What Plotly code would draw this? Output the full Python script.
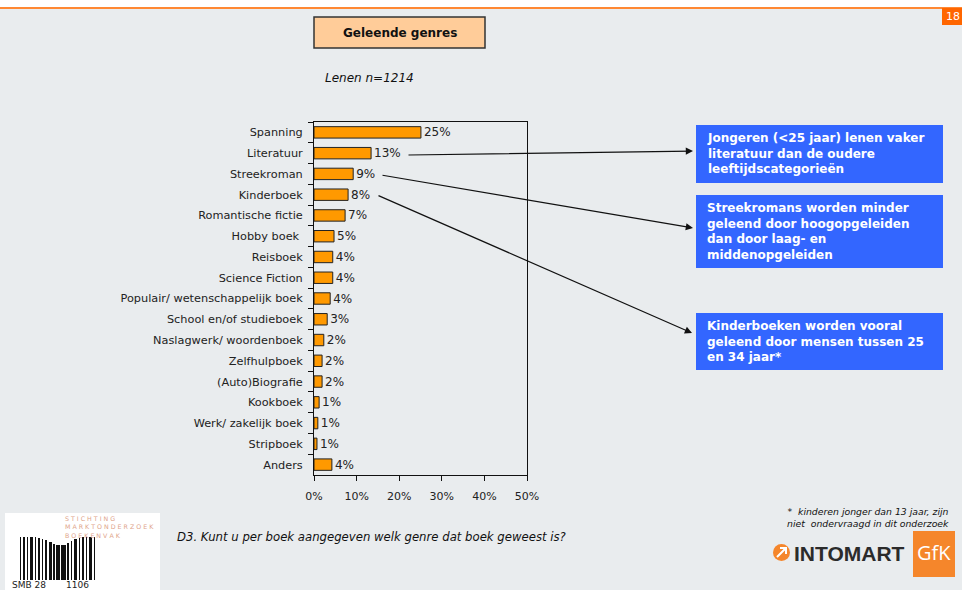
import plotly.graph_objects as go

# Share of borrowed books per genre (%)
genres = [
    "Spanning", "Literatuur", "Streekroman", "Kinderboek", "Romantische fictie",
    "Hobby boek\u00a0", "Reisboek", "Science Fiction", "Populair/ wetenschappelijk boek",
    "School en/of studieboek", "Naslagwerk/ woordenboek", "Zelfhulpboek",
    "(Auto)Biografie", "Kookboek", "Werk/ zakelijk boek", "Stripboek", "Anders",
]
shares = [25.1, 13.4, 9.2, 8.0, 7.3, 4.7, 4.4, 4.4, 3.8, 3.1, 2.3, 1.9, 1.9, 1.2, 0.9, 0.7, 4.2]
x_ticks = [0, 10, 20, 30, 40, 50]
x_tick_labels = ["0%", "10%", "20%", "30%", "40%", "50%"]

W_PX, H_PX = 962, 590
L, R, T, B = 314, 527, 122, 475
FONT = "DejaVu Sans"
BG = "#E9ECEE"


def px(x):
    return (x - L) / (R - L)


def py(y):
    return (B - y) / (B - T)


def label(x, y, text, size, color="#111111", family=FONT, xanchor="left",
          yanchor="middle", align="left"):
    return dict(xref="paper", yref="paper", x=px(x), y=py(y), text=text,
                xanchor=xanchor, yanchor=yanchor, align=align, showarrow=False,
                font=dict(family=family, size=size, color=color))


fig = go.Figure(go.Bar(
    x=shares, y=genres, orientation="h",
    marker=dict(color="#FF9900", line=dict(color="#222222", width=1)),
    texttemplate="%{x:.0f}%", textposition="outside", cliponaxis=False,
    constraintext="none",
    textfont=dict(family=FONT, size=12, color="#222222"),
    hoverinfo="skip",
))

shapes = []
annotations = []

# page header: white strip, orange rule, page number
shapes.append(dict(type="rect", xref="paper", yref="paper", x0=px(0), x1=px(W_PX),
                   y0=py(0), y1=py(8), fillcolor="white", line_width=0, layer="below"))
shapes.append(dict(type="line", xref="paper", yref="paper", x0=px(0), x1=px(W_PX),
                   y0=py(8), y1=py(8), line=dict(color="#FF8833", width=2)))
shapes.append(dict(type="rect", xref="paper", yref="paper", x0=px(942), x1=px(962),
                   y0=py(8), y1=py(25), fillcolor="#FF6600", line_width=0))
annotations.append(label(953, 16.5, "18", 11, "white", xanchor="center"))

# title box
shapes.append(dict(type="rect", xref="paper", yref="paper", x0=px(314), x1=px(485),
                   y0=py(17), y1=py(48), fillcolor="#FFCC99",
                   line=dict(color="#333333", width=1.5)))
annotations.append(label(399.5, 32.5, "<b>Geleende genres</b>", 12, xanchor="center"))
annotations.append(label(323, 78, "<i>Lenen n=1214</i>", 12))

# blue comment boxes
notes = [
    ((125, 183), "Jongeren (&lt;25 jaar) lenen vaker<br>literatuur dan de oudere<br>leeftijdscategorieën"),
    ((195, 268), "Streekromans worden minder<br>geleend door hoogopgeleiden<br>dan door laag- en<br>middenopgeleiden"),
    ((313, 370), "Kinderboeken worden vooral<br>geleend door mensen tussen 25<br>en 34 jaar*"),
]
for (y0, y1), txt in notes:
    shapes.append(dict(type="rect", xref="paper", yref="paper", x0=px(696), x1=px(943),
                       y0=py(y0), y1=py(y1), fillcolor="#3366FF", line_width=0))
    annotations.append(label(705, y0 + 4, "<b>" + txt + "</b>", 12, "white", yanchor="top"))

# connector arrows from bar labels to comment boxes
arrows = [((693, 151), (407, 155)), ((693, 228), (381, 175)), ((692, 333), (377, 195))]
for (hx, hy), (tx, ty) in arrows:
    annotations.append(dict(xref="paper", yref="paper", x=px(hx), y=py(hy),
                            ax=tx - hx, ay=ty - hy, text="", showarrow=True,
                            arrowhead=2, arrowsize=1.2, arrowwidth=1.2,
                            arrowcolor="#111111", standoff=0, startstandoff=0))

# question text
annotations.append(label(175, 537,
                         "<i>D3. Kunt u per boek aangegeven welk genre dat boek geweest is?</i>",
                         11.7))

# footnote
annotations.append(label(951, 517,
                         "<i>*  kinderen jonger dan 13 jaar, zijn<br>niet  ondervraagd in dit onderzoek</i>",
                         9.3, xanchor="right", align="right"))

# INTOMART GfK logo
shapes.append(dict(type="circle", xref="paper", yref="paper", x0=px(773), x1=px(790),
                   y0=py(544), y1=py(561), fillcolor="#F5862B", line_width=0))
shapes.append(dict(type="path", xref="paper", yref="paper",
                   path=f"M {px(777)} {py(557)} L {px(786)} {py(548)} M {px(780)} {py(548)} "
                        f"L {px(786)} {py(548)} L {px(786)} {py(554)}",
                   line=dict(color="white", width=2)))
annotations.append(label(792, 553, "<b>INTOMART</b>", 21, "#2B2B2B", family="Liberation Sans"))
shapes.append(dict(type="rect", xref="paper", yref="paper", x0=px(913), x1=px(955),
                   y0=py(531), y1=py(577), fillcolor="#F5862B", line_width=0))
annotations.append(label(934, 552, "GfK", 20, "white", family="Open Sans", xanchor="center"))

# SMB logo (bottom left)
shapes.append(dict(type="rect", xref="paper", yref="paper", x0=px(5), x1=px(160),
                   y0=py(513), y1=py(595), fillcolor="white", line_width=0))
for i, word in enumerate(["STICHTING", "MARKTONDERZOEK", "BOEKENVAK"]):
    annotations.append(label(63, 518 + 8.5 * i, " ".join(word), 6.3, "#E0A489"))
barcode = [(20, 1, 537), (23, 2, 537), (27, 1, 537), (30, 3, 537), (35, 1, 537),
           (38, 2, 538), (42, 1, 539), (45, 2, 540), (49, 3, 542), (53, 2, 544),
           (56, 4, 545), (61, 5, 545), (67, 2, 543), (71, 1, 541), (74, 3, 539),
           (79, 1, 538), (82, 2, 537), (86, 1, 537), (89, 3, 537), (94, 1, 537)]
for bx, bw, btop in barcode:
    shapes.append(dict(type="rect", xref="paper", yref="paper", x0=px(bx), x1=px(bx + bw),
                       y0=py(btop), y1=py(580), fillcolor="#111111", line_width=0))
annotations.append(label(10, 584.5, "SMB 28       1106", 9, "#222222"))

fig.update_layout(
    width=W_PX, height=H_PX,
    margin=dict(l=L, r=W_PX - R, t=T, b=H_PX - B, pad=0),
    paper_bgcolor=BG, plot_bgcolor=BG,
    showlegend=False, bargap=0.45,
    font=dict(family=FONT, size=11, color="#222222"),
    shapes=shapes, annotations=annotations,
    xaxis=dict(range=[0, 50], tickvals=x_ticks, ticktext=x_tick_labels,
               showgrid=False, zeroline=False, showline=True, mirror=True,
               linecolor="#111111", linewidth=1, ticks="outside", ticklen=5,
               tickcolor="#111111", ticklabelstandoff=6,
               tickfont=dict(family=FONT, size=11, color="#222222"), fixedrange=True),
    yaxis=dict(autorange="reversed", showgrid=False, showline=True, mirror=True,
               linecolor="#111111", linewidth=1, ticks="outside", ticklen=5,
               tickson="boundaries", tickcolor="#111111", ticklabelstandoff=8,
               tickfont=dict(family=FONT, size=11.3, color="#222222"), fixedrange=True),
)

fig.write_html("out.html", config={"displayModeBar": False})
